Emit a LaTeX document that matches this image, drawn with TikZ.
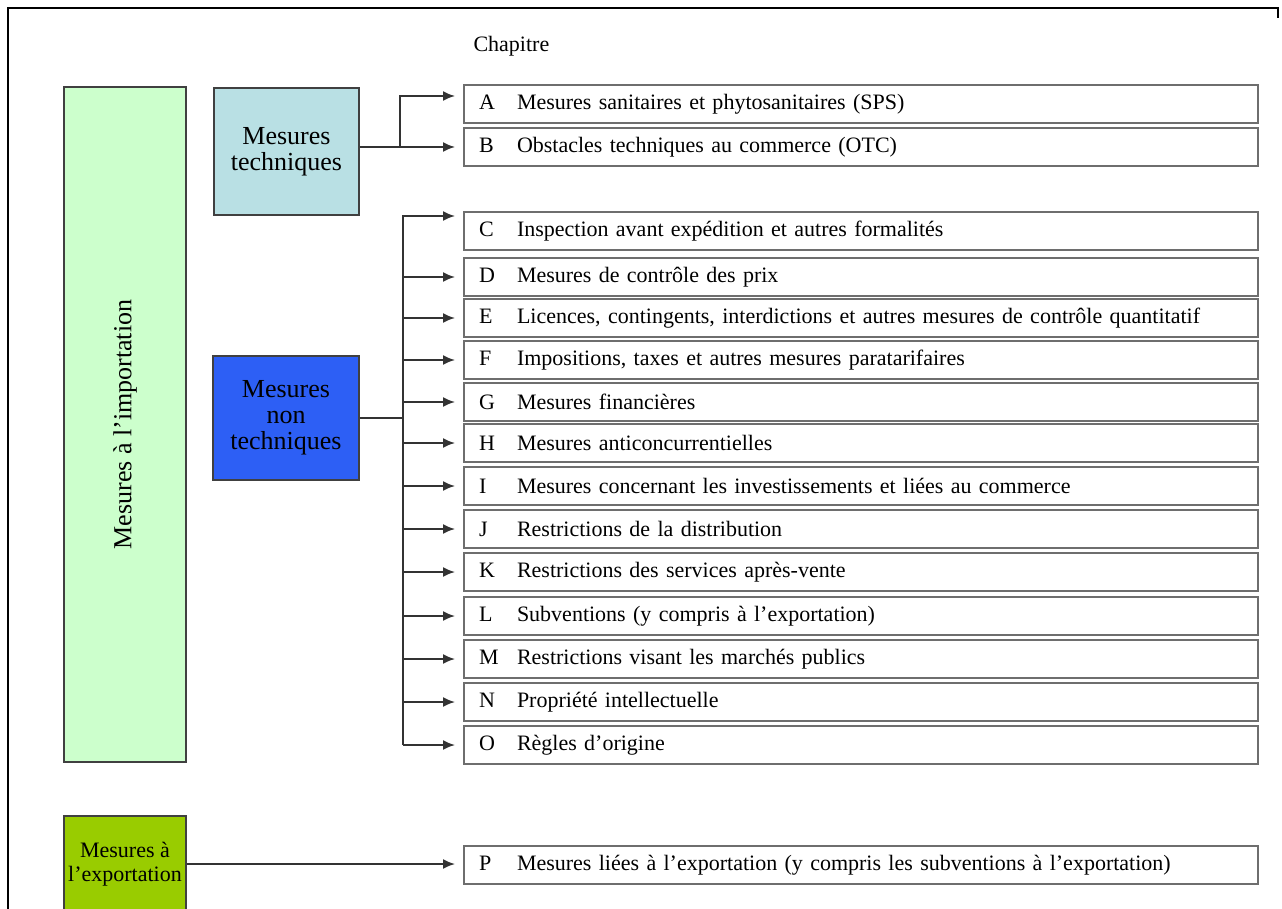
\documentclass[tikz,border=0pt]{standalone}
\usepackage{fontspec}
\setmainfont{Liberation Serif}
\usetikzlibrary{arrows.meta,positioning}

\definecolor{impgreen}{RGB}{204,255,204}
\definecolor{techblue}{RGB}{185,224,228}
\definecolor{ntblue}{RGB}{45,95,245}
\definecolor{expgreen}{RGB}{153,204,0}
\definecolor{boxgray}{RGB}{110,110,110}

\tikzset{
  group/.style={draw=black!75, line width=1.5pt, align=center, inner sep=0pt,
    font=\fontsize{26}{26}\selectfont},
  entry/.style={draw=boxgray, line width=2pt, fill=white, anchor=north west,
    text width=764pt, minimum height=38pt, inner xsep=15pt, inner ysep=0pt,
    align=left, font=\fontsize{22}{24}\selectfont},
  link/.style={draw=black!80, line width=1.8pt},
  arr/.style={link, -{Latex[length=12pt,width=10pt]}, shorten >=8pt},
}

\begin{document}
\begin{tikzpicture}[x=1pt, y=-1pt]
  \useasboundingbox (0,0) rectangle (1282,909);
  % frame
  \draw[line width=2pt] (8,909) -- (8,8) -- (1278,8) -- (1278,18);

  \node[anchor=west, font=\fontsize{22}{24}\selectfont] (chap) at (470,46) {Chapitre};

  % groups
  \node[group, fill=impgreen, rotate=90, minimum width=675pt, minimum height=122pt] (imp) at (125,424.5) {Mesures à l’importation};
  \node[group, fill=techblue, minimum width=145pt, minimum height=127pt] (tech) at (286.5,151.5) {Mesures\\techniques};
  \node[group, fill=ntblue, minimum width=146pt, minimum height=124pt] (nontech) at (286,418) {Mesures\\non\\techniques};
  \node[group, fill=expgreen, minimum width=122pt, minimum height=96pt,
    font=\fontsize{22}{24}\selectfont] (exp) at (125,864) {Mesures à\\l’exportation};

  % chapters
  \foreach \l/\t/\s in {
      A/84/{Mesures sanitaires et phytosanitaires (SPS)},
      B/127/{Obstacles techniques au commerce (OTC)},
      C/211/{Inspection avant expédition et autres formalités},
      D/257/{Mesures de contrôle des prix},
      E/298/{Licences, contingents, interdictions et autres mesures de contrôle quantitatif},
      F/340/{Impositions, taxes et autres mesures paratarifaires},
      G/382/{Mesures financières},
      H/423/{Mesures anticoncurrentielles},
      I/466/{Mesures concernant les investissements et liées au commerce},
      J/509/{Restrictions de la distribution},
      K/552/{Restrictions des services après-vente},
      L/596/{Subventions (y compris à l’exportation)},
      M/639/{Restrictions visant les marchés publics},
      N/682/{Propriété intellectuelle},
      O/725/{Règles d’origine},
      P/845/{Mesures liées à l’exportation (y compris les subventions à l’exportation)}}
    \node[entry] (\l) at (463,\t) {\makebox[38pt][l]{\l}\s};

  % connectors
  \coordinate (tj) at (400,0);
  \coordinate (nj) at (403,0);
  \draw[arr] (tech.east |- B.west) -- (B.west);
  \draw[arr] (tj |- B.west) |- ([yshift=8pt]A.west);
  \draw[link] (nontech.east) -- (nontech.east -| nj);
  \draw[arr] (nj |- O.west) |- ([yshift=15pt]C.west);
  \foreach \n in {D,...,O}
    \draw[arr] (nj |- \n.west) -- (\n.west);
  \draw[arr] (exp.east) -- (exp.east -| P.west);
\end{tikzpicture}
\end{document}
